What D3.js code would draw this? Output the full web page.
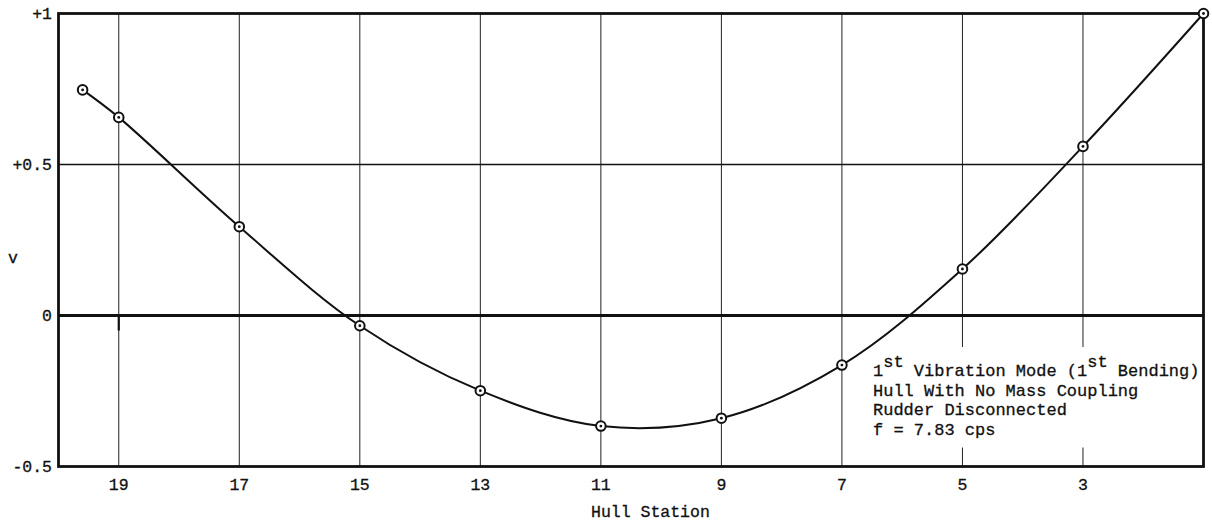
<!DOCTYPE html>
<html>
<head>
<meta charset="utf-8">
<script src="https://cdn.jsdelivr.net/npm/d3@7"></script>
<style>
  html, body { margin: 0; padding: 0; background: #fff; }
  svg { display: block; }
  text { font-family: "Liberation Mono", "Courier New", monospace; fill: #111; stroke: #111; stroke-width: 0.3; }
</style>
</head>
<body>
<svg id="chart" width="1212" height="527"></svg>
<script>
// Hull stations (bow at right) and measured mode-shape deflection v
const stations   = [19.6, 19, 17, 15, 13, 11, 9, 7, 5, 3, 1];
const deflection = [0.747, 0.656, 0.294, -0.034, -0.249, -0.366, -0.340, -0.164, 0.154, 0.56, 1.0];

const stationTicks = [19, 17, 15, 13, 11, 9, 7, 5, 3];
const vTicks       = [-0.5, 0, 0.5, 1];
const vTickLabels  = ["-0.5", "0", "+0.5", "+1"];

const noteLines = [
  [{t: "1"}, {t: "st", sup: true}, {t: " Vibration Mode (1"}, {t: "st", sup: true}, {t: " Bending)"}],
  [{t: "Hull With No Mass Coupling"}],
  [{t: "Rudder Disconnected"}],
  [{t: "f = 7.83 cps"}]
];

const svg = d3.select("#chart");

const x = d3.scaleLinear().domain([20, 1]).range([58.5, 1203.5]);
const y = d3.scaleLinear().domain([-0.5, 1]).range([466.5, 13.5]);

const [x0, x1] = x.range();
const [yB, yT] = y.range();

// vertical grid at odd stations
svg.append("g")
  .selectAll("line")
  .data(stationTicks)
  .join("line")
  .attr("x1", d => x(d)).attr("x2", d => x(d))
  .attr("y1", yT).attr("y2", yB)
  .attr("stroke", "#222").attr("stroke-width", 1);

// horizontal grid
svg.append("g")
  .selectAll("line")
  .data(vTicks.filter(v => v > -0.5 && v < 1))
  .join("line")
  .attr("x1", x0).attr("x2", x1)
  .attr("y1", d => y(d)).attr("y2", d => y(d))
  .attr("stroke", "#111")
  .attr("stroke-width", d => d === 0 ? 2.8 : 1.6);

// short tick below the zero line at station 19
svg.append("line")
  .attr("x1", x(19)).attr("x2", x(19))
  .attr("y1", y(0)).attr("y2", y(0) + 15)
  .attr("stroke", "#111").attr("stroke-width", 2.2);

// plot frame
svg.append("rect")
  .attr("x", x0).attr("y", yT)
  .attr("width", x1 - x0).attr("height", yB - yT)
  .attr("fill", "none").attr("stroke", "#111").attr("stroke-width", 2.8);

// annotation block with white backing over the grid
const note = svg.append("g");
const noteText = note.append("text")
  .attr("font-size", 17);
noteLines.forEach((parts, i) => {
  const base = 376 + i * 19.5;
  let first = true;
  parts.forEach(p => {
    const ts = noteText.append("tspan").text(p.t);
    if (first) { ts.attr("x", 873); first = false; }
    ts.attr("y", p.sup ? base - 9 : base);
  });
});
const bb = noteText.node().getBBox();
note.insert("rect", "text")
  .attr("x", bb.x - 7).attr("y", bb.y - 6)
  .attr("width", x1 - 2 - (bb.x - 7))
  .attr("height", bb.height + 14)
  .attr("fill", "#fff").attr("stroke", "none");

// mode shape curve
const pts = stations.map((s, i) => [s, deflection[i]]);
const line = d3.line()
  .x(d => x(d[0])).y(d => y(d[1]))
  .curve(d3.curveCatmullRom.alpha(0.5));
svg.append("path")
  .datum(pts)
  .attr("d", line)
  .attr("fill", "none").attr("stroke", "#111").attr("stroke-width", 2);

// measured points: circle with center dot
const marks = svg.append("g").selectAll("g").data(pts).join("g")
  .attr("transform", d => `translate(${x(d[0])},${y(d[1])})`);
marks.append("circle").attr("r", 4.8)
  .attr("fill", "#fff").attr("stroke", "#111").attr("stroke-width", 2);
marks.append("circle").attr("r", 1.4).attr("fill", "#111");

// x axis labels
svg.append("g")
  .selectAll("text")
  .data(stationTicks)
  .join("text")
  .attr("x", d => x(d)).attr("y", 490)
  .attr("text-anchor", "middle")
  .attr("font-size", 16.5)
  .text(d => d);

svg.append("text")
  .attr("x", 591).attr("y", 517)
  .attr("font-size", 16.5)
  .text("Hull Station");

// y axis labels
svg.append("g")
  .selectAll("text")
  .data(vTicks)
  .join("text")
  .attr("x", 52).attr("y", d => y(d))
  .attr("dy", "0.32em")
  .attr("text-anchor", "end")
  .attr("font-size", 16.5)
  .text((d, i) => vTickLabels[i]);

svg.append("text")
  .attr("x", 8).attr("y", 263)
  .attr("font-size", 16.5)
  .text("v");
</script>
</body>
</html>
